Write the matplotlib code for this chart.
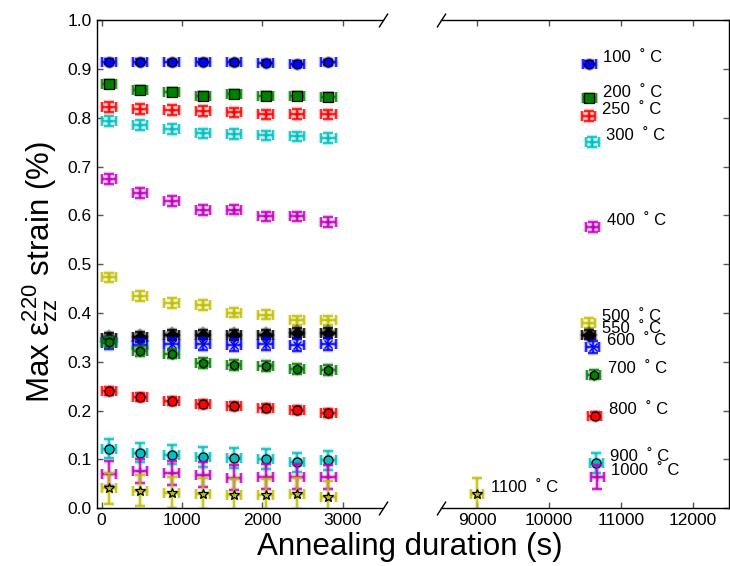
import numpy as np
import matplotlib
matplotlib.use("Agg")
import matplotlib.pyplot as plt

plt.rcParams['font.family'] = ['Liberation Sans', 'DejaVu Sans']
plt.rcParams['mathtext.fontset'] = 'custom'
plt.rcParams['mathtext.rm'] = 'Liberation Sans'
plt.rcParams['mathtext.it'] = 'Liberation Sans:italic'

# --- data ---
temps = ['100', '200', '250', '300', '400', '500', '550',
         '600', '700', '800', '900', '1000', '1100']

# annealing times on the short-time axis (s)
times = [90, 480, 870, 1260, 1650, 2040, 2430, 2820]

strain_short = [
    [0.915, 0.915, 0.914, 0.915, 0.914, 0.913, 0.911, 0.914],   # 100
    [0.869, 0.857, 0.852, 0.845, 0.848, 0.845, 0.845, 0.842],   # 200
    [0.823, 0.818, 0.816, 0.814, 0.811, 0.807, 0.808, 0.807],   # 250
    [0.793, 0.785, 0.777, 0.768, 0.767, 0.764, 0.762, 0.759],   # 300
    [0.674, 0.646, 0.629, 0.611, 0.612, 0.598, 0.598, 0.587],   # 400
    [0.473, 0.435, 0.420, 0.417, 0.401, 0.397, 0.385, 0.385],   # 500
    [0.349, 0.351, 0.355, 0.356, 0.355, 0.356, 0.359, 0.359],   # 550
    [0.339, 0.334, 0.336, 0.336, 0.334, 0.336, 0.334, 0.336],   # 600
    [0.341, 0.322, 0.317, 0.298, 0.293, 0.291, 0.286, 0.284],   # 700
    [0.240, 0.228, 0.220, 0.214, 0.209, 0.205, 0.201, 0.195],   # 800
    [0.122, 0.114, 0.110, 0.105, 0.103, 0.101, 0.094, 0.098],   # 900
    [0.071, 0.076, 0.072, 0.069, 0.063, 0.065, 0.065, 0.064],   # 1000
    [0.041, 0.036, 0.032, 0.030, 0.028, 0.027, 0.030, 0.024],   # 1100
]

# long-time points (one per temperature)
time_long = [10560, 10560, 10550, 10600, 10610, 10550, 10550,
             10610, 10620, 10635, 10655, 10670, 9000]
strain_long = [0.911, 0.840, 0.804, 0.751, 0.576, 0.380, 0.356,
               0.330, 0.274, 0.190, 0.093, 0.064, 0.029]

y_err = [0.005, 0.005, 0.010, 0.010, 0.010, 0.010, 0.010,
         0.012, 0.010, 0.008, 0.020, 0.025, 0.032]
x_err = 90

colors = ['#0000FF', '#007F00', '#FF0000', '#00BFBF', '#BF00BF', '#BFBF00', '#000000',
          '#0000FF', '#007F00', '#FF0000', '#00BFBF', '#BF00BF', '#BFBF00']
markers = ['o', 's', '+', '+', '+', '+', 'D', 'x', 'h', 'o', 'o', '+', '*']
msizes = [6.5, 6.5, 5, 5, 5, 5, 6.5, 6, 6.5, 6.5, 6.5, 6, 7.5]

fig = plt.figure(figsize=(7.3, 5.66), dpi=100)
ax1 = fig.add_axes([0.1325, 0.102, 0.3922, 0.8622])
ax2 = fig.add_axes([0.6041, 0.102, 0.3945, 0.8622])


def draw(ax, x, y, i):
    c = colors[i]
    m = markers[i]
    filled = m not in ('+', 'x')
    # soft halo under each point
    ax.errorbar(x, y, xerr=x_err, yerr=y_err[i], fmt='none', ecolor=c,
                elinewidth=3.2, capsize=3.5, capthick=3.2, alpha=0.3)
    ax.errorbar(x, y, xerr=x_err, yerr=y_err[i], fmt='none', ecolor=c,
                elinewidth=1.1, capsize=3.5, capthick=1.1)
    if filled:
        ax.plot(x, y, ls='none', marker=m, ms=msizes[i] + 2.5, color=c, alpha=0.35, mew=0)
        ax.plot(x, y, ls='none', marker=m, ms=msizes[i], mfc=c, mec='k', mew=0.9)
    else:
        ax.plot(x, y, ls='none', marker=m, ms=msizes[i], color=c, mew=1.0)


for i in range(len(temps)):
    draw(ax1, times, strain_short[i], i)
    draw(ax2, [time_long[i]], [strain_long[i]], i)
    ax2.annotate(temps[i] + '  ˚ C', (time_long[i], strain_long[i]),
                 xytext=(10, 4.5), textcoords='offset points',
                 ha='left', va='center', fontsize=12)

for ax in (ax1, ax2):
    ax.set_ylim(0, 1.0)
    ax.set_yticks(np.arange(0, 1.01, 0.1))
    ax.tick_params(direction='in', length=4, width=1, labelsize=12.5,
                   color='#555555', top=True)
    for s in ax.spines.values():
        s.set_linewidth(1.0)

ax1.set_xlim(-60, 3500)
ax1.set_xticks([0, 1000, 2000, 3000])
ax1.set_yticklabels(['%.1f' % v for v in np.arange(0, 1.01, 0.1)])
ax1.spines['right'].set_visible(False)
ax1.tick_params(right=False)

ax2.set_xlim(8500, 12500)
ax2.set_xticks([9000, 10000, 11000, 12000])
ax2.spines['left'].set_visible(False)
ax2.tick_params(left=False, labelleft=False, right=True)

# break marks
kw = dict(marker=[(-1, -1.55), (1, 1.55)], markersize=10, linestyle='none',
          color='k', mec='k', mew=1.0, clip_on=False)
ax1.plot([1, 1], [0, 1], transform=ax1.transAxes, **kw)
ax2.plot([0, 0], [0, 1], transform=ax2.transAxes, **kw)

fig.text(410 / 730, 1 - 547 / 566, 'Annealing duration (s)', ha='center', va='center', fontsize=22.5)
fig.text(40 / 730, 0.52, r'Max $\mathrm{ε}_{\rm zz}^{220}$ strain (%)', rotation=90,
         ha='center', va='center', fontsize=22.5)

fig.savefig('out.png', dpi=100)
